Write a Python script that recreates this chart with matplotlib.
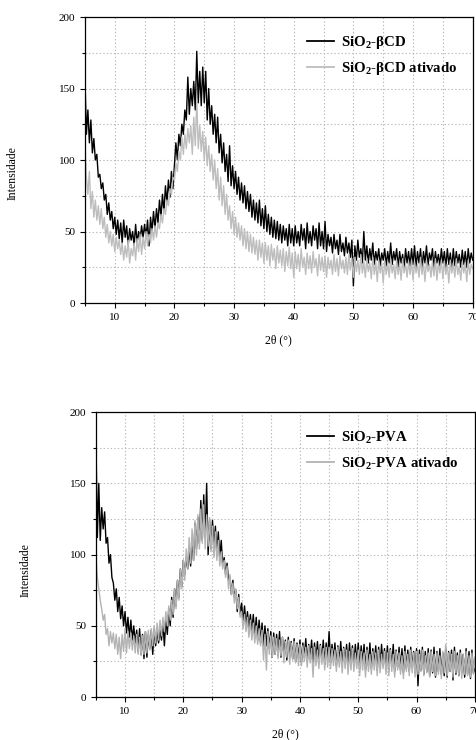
import numpy as np
import matplotlib as mpl
mpl.use('Agg')
import matplotlib.pyplot as plt
from matplotlib.ticker import MultipleLocator

plt.rcParams['font.family'] = ['Liberation Serif', 'DejaVu Serif']
plt.rcParams['mathtext.fontset'] = 'custom'
plt.rcParams['mathtext.rm'] = 'Liberation Serif'
plt.rcParams['mathtext.bf'] = 'Liberation Serif:bold'

# 2theta grid, 0.25 deg steps from 5 to 70
two_theta = np.linspace(5, 70, 261)

bcd = [
    158, 118, 135, 112, 128, 105, 115, 100, 104, 88, 90, 80, 84, 72, 76, 62, 70, 58, 64, 52,
    60, 48, 58, 45, 56, 42, 58, 46, 54, 40, 52, 44, 50, 40, 55, 42, 50, 44, 54, 46,
    55, 46, 58, 40, 60, 50, 64, 52, 66, 56, 72, 60, 76, 64, 82, 70, 86, 74, 92, 80,
    96, 112, 100, 118, 110, 125, 118, 135, 128, 158, 132, 150, 138, 155, 135, 176, 140, 162, 138, 165,
    140, 162, 128, 150, 125, 138, 118, 132, 112, 130, 105, 118, 98, 112, 92, 104, 85, 110, 82, 96,
    80, 92, 76, 88, 72, 84, 70, 82, 66, 78, 64, 76, 60, 72, 58, 70, 56, 72, 54, 66,
    52, 68, 50, 62, 48, 60, 46, 58, 45, 57, 44, 55, 42, 54, 44, 52, 40, 55, 42, 52,
    40, 54, 42, 50, 40, 55, 44, 52, 38, 56, 42, 50, 40, 54, 44, 52, 38, 56, 40, 50,
    38, 57, 36, 48, 40, 46, 35, 48, 38, 44, 34, 48, 36, 42, 33, 46, 35, 42, 32, 44,
    12, 40, 30, 44, 32, 38, 28, 50, 30, 40, 28, 38, 30, 42, 27, 36, 30, 38, 26, 35,
    30, 38, 26, 36, 28, 42, 27, 36, 30, 38, 25, 36, 28, 34, 24, 38, 28, 36, 26, 38,
    27, 40, 25, 36, 28, 38, 24, 36, 28, 40, 26, 35, 30, 38, 25, 36, 28, 34, 26, 38,
    28, 36, 25, 38, 27, 35, 24, 38, 26, 36, 28, 34, 25, 37, 27, 36, 25, 38, 28, 35, 30,
]

bcd_ativado = [
    110, 88, 76, 92, 66, 78, 60, 72, 58, 68, 55, 66, 52, 60, 46, 55, 42, 50, 40, 48,
    36, 46, 38, 44, 34, 42, 30, 40, 32, 44, 28, 38, 33, 42, 30, 45, 36, 48, 34, 46,
    38, 50, 40, 48, 42, 52, 44, 54, 46, 56, 52, 62, 56, 66, 62, 72, 68, 80, 76, 88,
    86, 98, 92, 106, 100, 116, 104, 118, 108, 122, 112, 124, 104, 130, 110, 142, 108, 124, 106, 120,
    100, 116, 96, 110, 92, 104, 86, 100, 80, 94, 72, 88, 68, 82, 62, 76, 58, 68, 52, 64,
    48, 60, 46, 56, 44, 54, 40, 52, 38, 50, 36, 48, 35, 46, 34, 44, 30, 44, 32, 42,
    28, 42, 30, 40, 26, 41, 30, 38, 24, 40, 28, 37, 26, 38, 22, 36, 26, 39, 24, 35,
    18, 36, 24, 34, 22, 38, 25, 32, 20, 35, 24, 33, 21, 36, 25, 31, 19, 34, 23, 32,
    22, 33, 18, 32, 24, 30, 20, 34, 22, 31, 19, 33, 24, 30, 21, 32, 20, 34, 23, 31,
    18, 32, 22, 30, 20, 34, 21, 29, 18, 31, 22, 28, 17, 32, 20, 29, 15, 30, 21, 28,
    14, 30, 20, 28, 18, 31, 21, 27, 17, 30, 20, 28, 16, 31, 21, 27, 18, 29, 20, 30,
    16, 29, 21, 27, 18, 32, 20, 28, 15, 30, 22, 27, 18, 29, 19, 31, 16, 28, 21, 30,
    17, 29, 20, 27, 14, 30, 21, 28, 18, 31, 20, 26, 16, 29, 21, 28, 15, 30, 20, 27, 24,
]

pva = [
    185, 112, 150, 110, 133, 118, 130, 108, 112, 94, 100, 84, 80, 68, 76, 60, 70, 55, 64, 50,
    60, 45, 56, 42, 54, 40, 50, 38, 47, 32, 48, 30, 44, 27, 46, 28, 44, 34, 47, 30,
    48, 36, 46, 38, 47, 40, 52, 36, 55, 44, 62, 50, 70, 56, 76, 64, 82, 70, 90, 78,
    96, 86, 98, 90, 104, 92, 110, 96, 122, 104, 126, 108, 138, 110, 142, 112, 150, 100, 124, 104,
    124, 106, 120, 100, 116, 98, 110, 92, 98, 86, 94, 82, 84, 72, 82, 70, 75, 60, 72, 58,
    66, 52, 64, 50, 60, 48, 58, 46, 58, 42, 56, 40, 54, 38, 52, 36, 50, 36, 48, 34,
    46, 28, 45, 30, 44, 29, 46, 28, 42, 30, 40, 26, 42, 28, 39, 27, 41, 25, 38, 27,
    40, 24, 38, 28, 41, 25, 37, 27, 40, 23, 38, 26, 39, 24, 37, 27, 40, 23, 38, 26,
    46, 24, 37, 26, 38, 22, 36, 25, 39, 23, 35, 24, 37, 21, 38, 23, 36, 22, 37, 24,
    38, 20, 36, 24, 37, 19, 35, 22, 38, 20, 34, 23, 36, 19, 35, 21, 37, 22, 34, 20,
    36, 19, 34, 22, 37, 18, 33, 21, 35, 19, 34, 17, 36, 20, 33, 18, 35, 21, 32, 17,
    34, 8, 33, 19, 35, 16, 32, 18, 34, 15, 33, 17, 35, 14, 32, 18, 34, 16, 31, 15,
    34, 14, 32, 18, 33, 12, 35, 16, 31, 15, 33, 17, 30, 14, 34, 16, 32, 13, 33, 17, 20,
]

pva_ativado = [
    100, 84, 76, 68, 62, 54, 58, 44, 48, 36, 46, 38, 45, 34, 44, 30, 42, 27, 44, 32,
    48, 31, 46, 34, 45, 33, 43, 31, 44, 30, 42, 29, 43, 30, 46, 31, 47, 33, 48, 36,
    50, 38, 52, 40, 54, 43, 56, 46, 60, 50, 64, 54, 68, 58, 76, 62, 82, 68, 90, 76,
    96, 82, 104, 90, 112, 94, 118, 96, 124, 100, 128, 104, 132, 108, 135, 104, 128, 106, 126, 102,
    120, 98, 116, 96, 110, 92, 102, 90, 96, 84, 92, 76, 86, 72, 80, 66, 76, 62, 70, 56,
    60, 48, 58, 46, 56, 42, 54, 40, 52, 38, 50, 37, 48, 36, 47, 26, 44, 19, 46, 30,
    43, 28, 42, 30, 41, 27, 40, 29, 42, 24, 39, 28, 40, 23, 38, 26, 39, 24, 37, 22,
    37, 22, 36, 25, 35, 21, 36, 24, 34, 14, 35, 22, 33, 20, 36, 23, 34, 19, 35, 21,
    35, 20, 34, 22, 33, 18, 35, 21, 32, 17, 34, 20, 33, 16, 32, 19, 34, 18, 31, 20,
    33, 15, 32, 19, 31, 14, 33, 18, 30, 16, 32, 19, 31, 15, 33, 17, 30, 20, 32, 16,
    31, 15, 33, 18, 30, 14, 32, 19, 31, 16, 29, 13, 32, 18, 30, 15, 33, 17, 31, 14,
    32, 16, 30, 18, 33, 15, 29, 17, 31, 14, 32, 18, 30, 15, 31, 16, 29, 13, 32, 17,
    37, 15, 31, 18, 30, 14, 32, 17, 29, 15, 31, 13, 30, 16, 32, 15, 29, 14, 31, 16, 28,
]

panels = [
    (bcd, bcd_ativado, r'SiO$_\mathbf{2}$-βCD', r'SiO$_\mathbf{2}$-βCD ativado', '#bdbdbd'),
    (pva, pva_ativado, r'SiO$_\mathbf{2}$-PVA', r'SiO$_\mathbf{2}$-PVA ativado', '#b3b3b3'),
]
rects = [[0.178, 0.5905, 0.813, 0.3865], [0.201, 0.058, 0.7945, 0.385]]
legend_anchor = [(0.572, 0.94), (0.556, 0.94)]
ylabel_pos = [(-0.17, 0.455), (-0.169, 0.445)]

fig = plt.figure(figsize=(4.77, 7.40), dpi=100)

for i, (dark, light, lab_dark, lab_light, grey) in enumerate(panels):
    ax = fig.add_axes(rects[i])
    ax.plot(two_theta, dark, color='black', lw=1.0, label=lab_dark)
    ax.plot(two_theta, light, color=grey, lw=1.0, label=lab_light)

    ax.set_xlim(5, 70)
    ax.set_ylim(0, 200)
    ax.xaxis.set_major_locator(MultipleLocator(10))
    ax.xaxis.set_minor_locator(MultipleLocator(5))
    ax.yaxis.set_major_locator(MultipleLocator(50))
    ax.yaxis.set_minor_locator(MultipleLocator(25))
    ax.grid(which='both', color='#b8b8b8', linestyle=(0, (1.2, 2)), linewidth=0.8)
    ax.set_axisbelow(True)
    ax.tick_params(which='both', direction='out', labelsize=8, width=0.8)
    ax.tick_params(which='major', length=3.5)
    ax.tick_params(which='minor', length=2.5)
    for sp in ax.spines.values():
        sp.set_linewidth(0.9)

    ax.set_xlabel('2θ (°)', fontsize=8.5)
    ax.set_ylabel('Intensidade', fontsize=8.5)
    ax.xaxis.set_label_coords(0.5, -0.11)
    ax.yaxis.set_label_coords(*ylabel_pos[i])

    leg = ax.legend(loc='upper left', bbox_to_anchor=legend_anchor[i], frameon=False,
                    prop={'weight': 'bold', 'size': 10.7}, handlelength=1.85,
                    handletextpad=0.45, labelspacing=0.6, borderpad=0, borderaxespad=0)
    for h in leg.get_lines():
        h.set_linewidth(1.3)

plt.savefig('out.png', dpi=100)
